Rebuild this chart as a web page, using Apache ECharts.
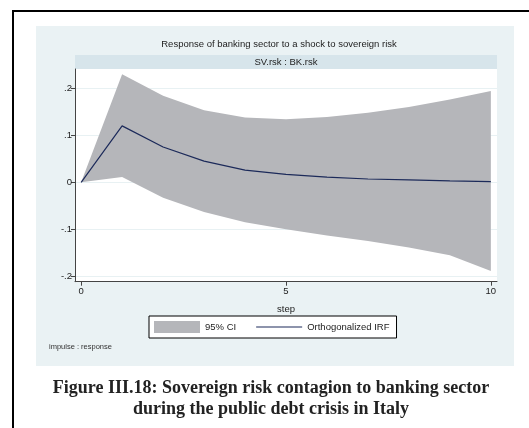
<!DOCTYPE html>
<html>
<head>
<meta charset="utf-8">
<script src="https://cdn.jsdelivr.net/npm/echarts@6/dist/echarts.min.js"></script>
<style>
html,body{margin:0;padding:0;background:#fff;}
#chart{width:529px;height:428px;}
</style>
</head>
<body>
<div id="chart"></div>
<script>
const steps = [0, 1, 2, 3, 4, 5, 6, 7, 8, 9, 10];
const irf = [0, 0.120, 0.075, 0.045, 0.026, 0.017, 0.011, 0.007, 0.005, 0.003, 0.0015];
const ciUpper = [0, 0.230, 0.184, 0.153, 0.138, 0.134, 0.139, 0.148, 0.160, 0.176, 0.194];
const ciLower = [0, 0.011, -0.033, -0.063, -0.085, -0.100, -0.113, -0.125, -0.139, -0.155, -0.189];
const yTicks = [-0.2, -0.1, 0, 0.1, 0.2];
const xTicks = [0, 5, 10];

const titleText = 'Response of banking sector to a shock to sovereign risk';
const stripText = 'SV.rsk : BK.rsk';
const noteText = 'impulse : response';
const caption1 = 'Figure III.18: Sovereign risk contagion to banking sector';
const caption2 = 'during the public debt crisis in Italy';

const sans = '"Liberation Sans", Arial, sans-serif';
const serif = '"Liberation Serif", "Times New Roman", serif';
const bandColor = '#b5b6ba';
const lineColor = '#1c2a5a';

function fmtY(v) {
  const r = Math.round(v * 10) / 10;
  if (r === 0) return '0';
  return r.toFixed(1).replace('0.', '.');
}

const bandData = steps.map((s, i) => [s, ciLower[i], ciUpper[i]]);

function renderBand(params, api) {
  if (params.dataIndex !== 0) return null;
  const upperPts = [];
  const lowerPts = [];
  for (let i = 0; i < bandData.length; i++) {
    upperPts.push(api.coord([bandData[i][0], bandData[i][2]]));
    lowerPts.push(api.coord([bandData[i][0], bandData[i][1]]));
  }
  const pts = upperPts.concat(lowerPts.reverse());
  return {
    type: 'polygon',
    shape: {points: pts},
    style: {fill: bandColor, stroke: 'none'}
  };
}

const chart = echarts.init(document.getElementById('chart'), null, {renderer: 'canvas'});
chart.setOption({
  animation: false,
  backgroundColor: '#fff',
  graphic: [
    {type: 'rect', z: -100, shape: {x: 13, y: 11, width: 540, height: 440}, style: {fill: 'none', stroke: '#000', lineWidth: 2}},
    {type: 'rect', z: -90, shape: {x: 36, y: 26, width: 478, height: 340}, style: {fill: '#eaf2f4'}},
    {type: 'rect', z: -80, shape: {x: 75, y: 55, width: 422, height: 14}, style: {fill: '#d7e5eb'}},
    {type: 'text', x: 279, y: 44, style: {text: titleText, font: '9.5px ' + sans, fill: '#222', align: 'center', verticalAlign: 'middle'}},
    {type: 'text', x: 286, y: 62.5, style: {text: stripText, font: '9.5px ' + sans, fill: '#222', align: 'center', verticalAlign: 'middle'}},
    {type: 'text', x: 49, y: 347, style: {text: noteText, font: '7.5px ' + sans, fill: '#333', align: 'left', verticalAlign: 'middle'}},
    {type: 'text', x: 271, y: 388, style: {text: caption1, font: 'bold 18px ' + serif, fill: '#222', align: 'center', verticalAlign: 'middle'}},
    {type: 'text', x: 271, y: 409, style: {text: caption2, font: 'bold 18px ' + serif, fill: '#222', align: 'center', verticalAlign: 'middle'}}
  ],
  legend: {
    data: [
      {name: '95% CI', icon: 'rect', itemStyle: {color: bandColor}},
      {name: 'Orthogonalized IRF', icon: 'path://M0,0h46v1.2h-46z', itemStyle: {color: lineColor, borderWidth: 0}}
    ],
    left: 149, top: 316,
    orient: 'horizontal',
    itemWidth: 46, itemHeight: 12, itemGap: 20,
    padding: [5, 7, 5, 5],
    borderColor: '#000', borderWidth: 1, backgroundColor: '#fff',
    textStyle: {fontFamily: sans, fontSize: 9.5, color: '#222'},
    selectedMode: false
  },
  grid: {left: 75, right: 32, top: 69, bottom: 146.3, show: true, backgroundColor: '#fff', borderWidth: 0, containLabel: false},
  xAxis: {
    type: 'value', min: -0.15, max: 10.15,
    name: 'step', nameLocation: 'middle', nameGap: 23,
    nameTextStyle: {fontFamily: sans, fontSize: 9.5, color: '#222'},
    axisLine: {show: true, onZero: false, lineStyle: {color: '#444', width: 1}},
    axisTick: {show: true, length: 4, customValues: xTicks, lineStyle: {color: '#444'}},
    axisLabel: {customValues: xTicks, fontFamily: sans, fontSize: 9.5, color: '#222', margin: 5},
    splitLine: {show: false}
  },
  yAxis: {
    type: 'value', min: -0.2115, max: 0.241,
    axisLine: {show: true, onZero: false, lineStyle: {color: '#444', width: 1}},
    axisTick: {show: true, length: 4, customValues: yTicks, lineStyle: {color: '#444'}},
    axisLabel: {customValues: yTicks, formatter: fmtY, fontFamily: sans, fontSize: 9.5, color: '#222', margin: 3},
    splitLine: {show: true, lineStyle: {color: '#e8f1f3', width: 1}}
  },
  series: [
    {
      name: '95% CI', type: 'custom',
      renderItem: renderBand,
      data: bandData,
      encode: {x: 0, y: [1, 2]},
      itemStyle: {color: bandColor},
      silent: true, z: 2
    },
    {
      name: 'Orthogonalized IRF', type: 'line',
      data: steps.map((s, i) => [s, irf[i]]),
      symbol: 'none', showSymbol: false,
      lineStyle: {color: lineColor, width: 1.2},
      itemStyle: {color: lineColor}, z: 5
    }
  ]
});
</script>
</body>
</html>
